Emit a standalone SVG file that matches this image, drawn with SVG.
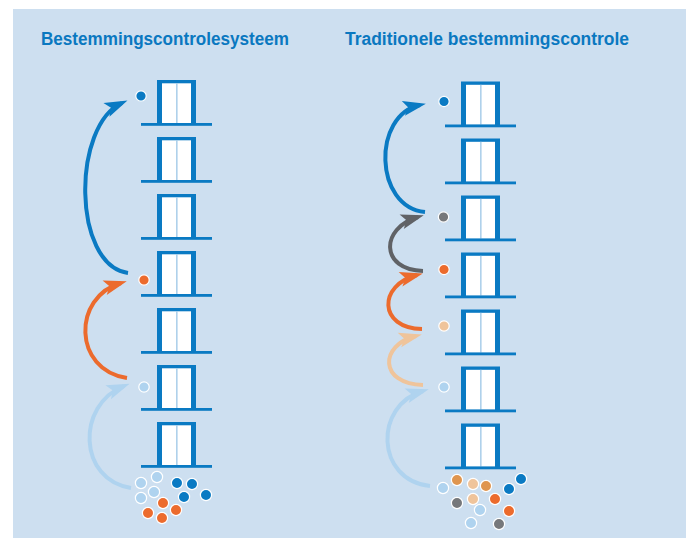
<svg xmlns="http://www.w3.org/2000/svg" xmlns:xlink="http://www.w3.org/1999/xlink" width="686" height="538" viewBox="0 0 686 538">
  <style>
    .title { font-family: "Liberation Sans", Arial, sans-serif; font-weight: bold; font-size: 17.5px; fill: #0a78c0; }
    .frame { fill: #0a7ac3; }
    .door { fill: #ffffff; }
    .divider { fill: #9cc6e6; }
    .arrow { fill: none; stroke-width: 4; stroke-linecap: butt; }
    .dot { stroke: #ffffff; stroke-width: 1.2; }
    .c-blue { fill: #0a7ac3; }
    .c-orange { fill: #ec6b2d; }
    .c-light { fill: #afd3ef; }
    .c-peach { fill: #efc49b; }
    .c-tan { fill: #df954f; }
    .c-gray { fill: #76787b; }
  </style>
  <defs>
    <g id="floor">
      <rect class="frame" x="157" y="0" width="39" height="44"/>
      <rect class="door" x="162" y="3.3" width="29" height="40"/>
      <rect class="divider" x="176.2" y="3.3" width="1.3" height="40"/>
      <rect class="frame" x="141" y="43" width="71" height="2.8"/>
    </g>
    <marker id="m-blue" markerUnits="userSpaceOnUse" orient="auto" refX="0" refY="0" markerWidth="40" markerHeight="40" style="overflow:visible"><path d="M6,0 L-17,-7.5 L-12,0 L-17,7.5 Z" fill="#0a7ac3"/></marker>
    <marker id="m-orange" markerUnits="userSpaceOnUse" orient="auto" refX="0" refY="0" markerWidth="40" markerHeight="40" style="overflow:visible"><path d="M6,0 L-17,-7.5 L-12,0 L-17,7.5 Z" fill="#ec6b2d"/></marker>
    <marker id="m-light" markerUnits="userSpaceOnUse" orient="auto" refX="0" refY="0" markerWidth="40" markerHeight="40" style="overflow:visible"><path d="M6,0 L-17,-7.5 L-12,0 L-17,7.5 Z" fill="#afd3ef"/></marker>
    <marker id="m-peach" markerUnits="userSpaceOnUse" orient="auto" refX="0" refY="0" markerWidth="40" markerHeight="40" style="overflow:visible"><path d="M6,0 L-17,-7.5 L-12,0 L-17,7.5 Z" fill="#efc49b"/></marker>
    <marker id="m-gray" markerUnits="userSpaceOnUse" orient="auto" refX="0" refY="0" markerWidth="40" markerHeight="40" style="overflow:visible"><path d="M6,0 L-17,-7.5 L-12,0 L-17,7.5 Z" fill="#606266"/></marker>
  </defs>

  <rect x="13" y="9" width="673" height="529" fill="#cddff0"/>

  <text class="title" x="41" y="45" textLength="248" lengthAdjust="spacingAndGlyphs">Bestemmingscontrolesysteem</text>
  <text class="title" x="345" y="45" textLength="284" lengthAdjust="spacingAndGlyphs">Traditionele bestemmingscontrole</text>

  <!-- Left building -->
  <g id="left-building">
    <g id="L-floor-7"><use xlink:href="#floor" transform="translate(0,80)"/></g>
    <g id="L-floor-6"><use xlink:href="#floor" transform="translate(0,137)"/></g>
    <g id="L-floor-5"><use xlink:href="#floor" transform="translate(0,194)"/></g>
    <g id="L-floor-4"><use xlink:href="#floor" transform="translate(0,251)"/></g>
    <g id="L-floor-3"><use xlink:href="#floor" transform="translate(0,308)"/></g>
    <g id="L-floor-2"><use xlink:href="#floor" transform="translate(0,365)"/></g>
    <g id="L-floor-1"><use xlink:href="#floor" transform="translate(0,422)"/></g>
  </g>

  <!-- Right building -->
  <g id="right-building">
    <g id="R-floor-7"><use xlink:href="#floor" transform="translate(304,81.5)"/></g>
    <g id="R-floor-6"><use xlink:href="#floor" transform="translate(304,138.5)"/></g>
    <g id="R-floor-5"><use xlink:href="#floor" transform="translate(304,195.5)"/></g>
    <g id="R-floor-4"><use xlink:href="#floor" transform="translate(304,252.5)"/></g>
    <g id="R-floor-3"><use xlink:href="#floor" transform="translate(304,309.5)"/></g>
    <g id="R-floor-2"><use xlink:href="#floor" transform="translate(304,366.5)"/></g>
    <g id="R-floor-1"><use xlink:href="#floor" transform="translate(304,423.5)"/></g>
  </g>

  <!-- Connectors -->
  <g id="connectors">
    <path class="arrow" stroke="#0a7ac3" marker-end="url(#m-blue)" d="M128,273 C72,265 72,125 122,103"/>
    <path class="arrow" stroke="#ec6b2d" marker-end="url(#m-orange)" d="M127,378 C73,370 72,297 121,283"/>
    <path class="arrow" stroke="#afd3ef" marker-end="url(#m-light)" d="M131,488 C78,480 76,405 124,386"/>

    <path class="arrow" stroke="#0a7ac3" marker-end="url(#m-blue)" d="M425,212 C374,207 372,115 420,105"/>
    <path class="arrow" stroke="#606266" marker-end="url(#m-gray)" d="M423,271 C380,270 380,228 418,217"/>
    <path class="arrow" stroke="#ec6b2d" marker-end="url(#m-orange)" d="M422,329 C378,328 378,285 417,275"/>
    <path class="arrow" stroke="#efc49b" marker-end="url(#m-peach)" d="M423,385 C379,384 379,345 416,336"/>
    <path class="arrow" stroke="#afd3ef" marker-end="url(#m-light)" d="M430,486 C375,480 374,405 423,391"/>
  </g>

  <!-- Passengers at floors -->
  <g id="left-dots">
    <circle class="dot c-blue" cx="141" cy="96" r="5.2"/>
    <circle class="dot c-orange" cx="144" cy="280" r="5.2"/>
    <circle class="dot c-light" cx="144" cy="387" r="5.2"/>
  </g>
  <g id="right-dots">
    <circle class="dot c-blue" cx="444" cy="101.5" r="5.2"/>
    <circle class="dot c-gray" cx="443.5" cy="217" r="5.2"/>
    <circle class="dot c-orange" cx="444" cy="269.5" r="5.2"/>
    <circle class="dot c-peach" cx="444" cy="326" r="5.2"/>
    <circle class="dot c-light" cx="444" cy="387" r="5.2"/>
  </g>

  <!-- Waiting crowds -->
  <g id="left-crowd">
    <circle class="dot c-light" cx="141" cy="483" r="5.6"/>
    <circle class="dot c-light" cx="157" cy="477" r="5.6"/>
    <circle class="dot c-light" cx="154" cy="492" r="5.6"/>
    <circle class="dot c-light" cx="141" cy="498" r="5.6"/>
    <circle class="dot c-blue" cx="177" cy="483" r="5.6"/>
    <circle class="dot c-blue" cx="192" cy="484" r="5.6"/>
    <circle class="dot c-blue" cx="184" cy="497" r="5.6"/>
    <circle class="dot c-blue" cx="206" cy="495" r="5.6"/>
    <circle class="dot c-orange" cx="163" cy="503" r="5.6"/>
    <circle class="dot c-orange" cx="176" cy="510" r="5.6"/>
    <circle class="dot c-orange" cx="148" cy="513" r="5.6"/>
    <circle class="dot c-orange" cx="162" cy="518" r="5.6"/>
  </g>
  <g id="right-crowd">
    <circle class="dot c-tan" cx="457" cy="480" r="5.6"/>
    <circle class="dot c-peach" cx="473" cy="484" r="5.6"/>
    <circle class="dot c-tan" cx="486" cy="486" r="5.6"/>
    <circle class="dot c-light" cx="443" cy="488" r="5.6"/>
    <circle class="dot c-gray" cx="457" cy="503" r="5.6"/>
    <circle class="dot c-peach" cx="473" cy="499" r="5.6"/>
    <circle class="dot c-orange" cx="495" cy="499" r="5.6"/>
    <circle class="dot c-blue" cx="509" cy="489" r="5.6"/>
    <circle class="dot c-blue" cx="521" cy="479" r="5.6"/>
    <circle class="dot c-light" cx="480" cy="510" r="5.6"/>
    <circle class="dot c-orange" cx="509" cy="511" r="5.6"/>
    <circle class="dot c-light" cx="471" cy="523" r="5.6"/>
    <circle class="dot c-gray" cx="499" cy="524" r="5.6"/>
  </g>
</svg>
